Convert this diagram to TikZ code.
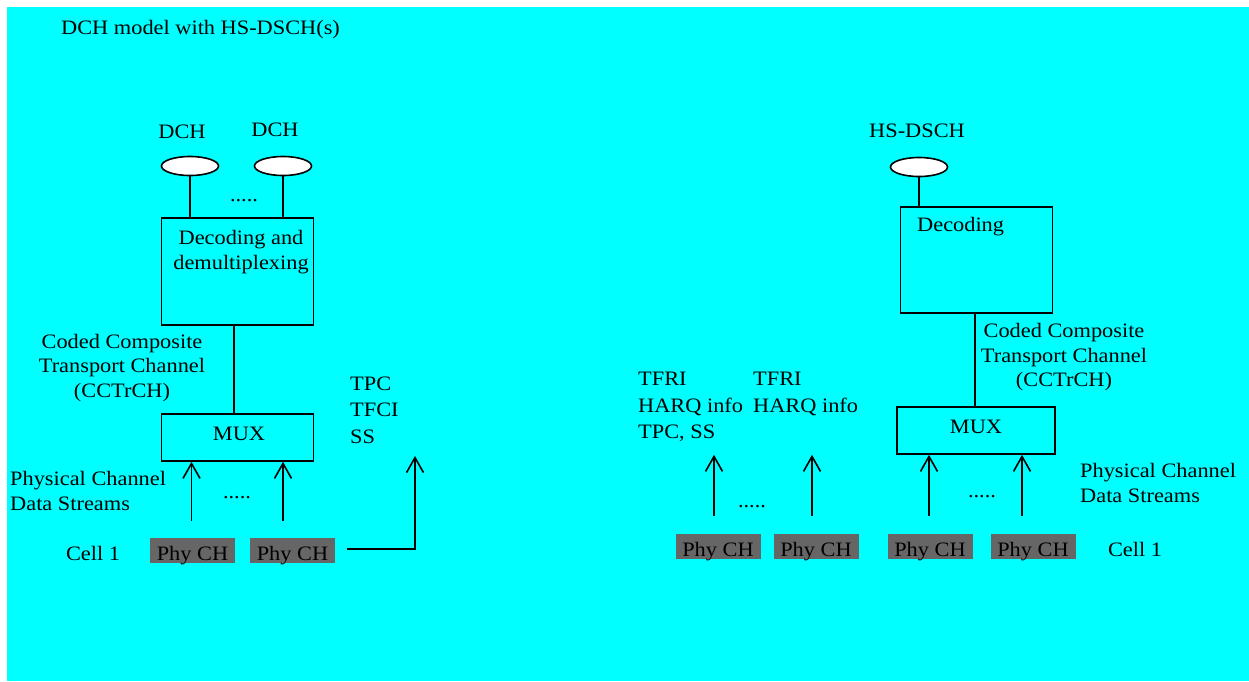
\documentclass[tikz,border=0pt]{standalone}
\usepackage{fontspec}
\setmainfont[FakeStretch=1.09]{Liberation Serif}
\usetikzlibrary{arrows.meta,positioning,shapes.geometric}
\definecolor{dchCyan}{HTML}{00FFFF}
\definecolor{dchGrey}{HTML}{666666}
\begin{document}
\begin{tikzpicture}[x=1pt,y=-1pt,>={Straight Barb[length=15pt,width=17pt]},line join=miter]
\path[fill=white] (0,0) rectangle (1249,681);
\path[fill=dchCyan] (7,7) rectangle (1249,681);
\tikzset{txt/.style={inner sep=0pt,font=\fontsize{20.5}{24.5}\selectfont,text=black},stack/.style={txt,align=left,font=\fontsize{20.5}{26.5}\selectfont},wire/.style={draw=black,line width=1.6pt},chan/.style={wire,ellipse,fill=white,minimum width=57pt,minimum height=19pt,inner sep=0pt},blk/.style={wire,inner sep=0pt},phy/.style={txt,fill=dchGrey,minimum width=85pt,minimum height=25pt,text height=19pt,text depth=0pt}}
\node[txt,anchor=west] (title) at (61,30) {DCH model with HS-DSCH(s)};
% DCH side
\node[txt] (dchLblA) at (182,132) {DCH};
\node[txt] (dchLblB) at (275,130) {DCH};
\node[chan] (dchA) at (190,166) {};
\node[chan] (dchB) at (283,166) {};
\node[txt,anchor=base] (dotsTop) at (244,201) {.....};
\node[blk,minimum width=152pt,minimum height=107pt] (decL) at (237.5,271.5) {};
\node[txt,align=center] (decLTxt) at (241,252) {Decoding and\\demultiplexing};
\node[blk,minimum width=152pt,minimum height=47pt] (muxL) at (237.5,437.5) {};
\node[txt] (muxLTxt) at (239,434) {MUX};
\node[txt,align=center] (cctrchL) at (122,368) {Coded Composite\\Transport Channel\\(CCTrCH)};
\node[txt,align=left,anchor=west] (pcdsL) at (10,491) {Physical Channel\\Data Streams};
\node[txt,anchor=base] (dotsL) at (237,498) {.....};
\node[txt] (cellL) at (93,553) {Cell 1};
\node[phy] (phyLA) at (192.5,550.5) {Phy CH};
\node[phy] (phyLB) at (292.5,550.5) {Phy CH};
\node[stack,anchor=west] (tpcL) at (350,410) {TPC\\TFCI\\SS};
\draw[wire] (dchA.south) -- (dchA.south |- decL.north);
\draw[wire] (dchB.south) -- (dchB.south |- decL.north);
\draw[wire] ([xshift=-3.5pt]decL.south) -- ([xshift=-3.5pt]muxL.north);
\coordinate (inLA) at (191.5,521);
\coordinate (inLB) at (283,521);
\draw[wire,->] (inLA) -- (inLA |- muxL.south);
\draw[wire,->] (inLB) -- (inLB |- muxL.south);
\coordinate (tpcFoot) at (415,549);
\coordinate (tpcTip) at (415,456);
\draw[wire,->] ([xshift=12pt]phyLB.east |- tpcFoot) -- (tpcFoot) -- (tpcTip);
% HS-DSCH side
\node[txt] (hsLbl) at (917,131) {HS-DSCH};
\node[chan] (hsd) at (919,167) {};
\node[blk,minimum width=152pt,minimum height=106pt] (decR) at (976.5,260) {};
\node[txt,anchor=west] (decRTxt) at (917,227) {Decoding};
\node[blk,minimum width=158pt,minimum height=47pt] (muxR) at (976,430.5) {};
\node[txt] (muxRTxt) at (976,427) {MUX};
\node[txt,align=center] (cctrchR) at (1064,357.5) {Coded Composite\\Transport Channel\\(CCTrCH)};
\node[txt,align=left,anchor=west] (pcdsR) at (1080,483) {Physical Channel\\Data Streams};
\node[txt] (cellR) at (1135,549) {Cell 1};
\node[stack,anchor=west] (tfriA) at (638,407) {TFRI\\HARQ info\\TPC, SS};
\node[stack,anchor=west] (tfriB) at (753,394) {TFRI\\HARQ info};
\node[txt,anchor=base] (dotsRA) at (752,507) {.....};
\node[txt,anchor=base] (dotsRB) at (982,497) {.....};
\node[phy] (phyRA) at (718,546.5) {Phy CH};
\node[phy] (phyRB) at (816,546.5) {Phy CH};
\node[phy] (phyRC) at (930,546.5) {Phy CH};
\node[phy] (phyRD) at (1033,546.5) {Phy CH};
\draw[wire] (hsd.south) -- (hsd.south |- decR.north);
\draw[wire] ([xshift=-1.5pt]decR.south) -- ([xshift=-1.5pt]decR.south |- muxR.north);
\coordinate (inRA) at (714,516);
\coordinate (inRB) at (812,516);
\coordinate (inRC) at (929,516);
\coordinate (inRD) at (1022,516);
\draw[wire,->] (inRA) -- (inRA |- muxR.south);
\draw[wire,->] (inRB) -- (inRB |- muxR.south);
\draw[wire,->] (inRC) -- (inRC |- muxR.south);
\draw[wire,->] (inRD) -- (inRD |- muxR.south);
\end{tikzpicture}
\end{document}
